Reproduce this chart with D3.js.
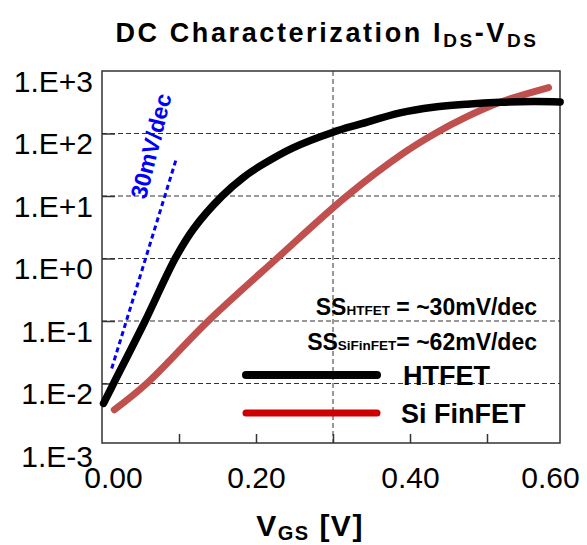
<!DOCTYPE html>
<html lang="en">
<head>
<meta charset="UTF-8">
<title>DC Characterization</title>
<script src="https://cdn.jsdelivr.net/npm/d3@7"></script>
<style>
    body { margin: 0; background: #fff; }
    text { font-family: "Liberation Sans", Arial, sans-serif; }
</style>
</head>
<body>
<script type="text/javascript">
    // values
    var vgsHtfet = [0.002, 0.015, 0.056, 0.095, 0.119, 0.156, 0.184, 0.205, 0.248, 0.300, 0.335, 0.387, 0.430, 0.474, 0.517, 0.560, 0.595];
    var idsHtfet = [0.0048, 0.01, 0.1, 1, 3.0, 10, 20, 30, 59, 105, 141, 214, 263, 295, 316, 324, 320];
    var vgsFinfet = [0.016, 0.058, 0.138, 0.227, 0.318, 0.391, 0.4325, 0.474, 0.517, 0.580];
    var idsFinfet = [0.0038, 0.01, 0.1, 1, 10, 48, 100, 186, 316, 543];
    var slopeV = [0.0126, 0.097];
    var slopeI = [0.0174, 41.3];
    var yDecades = [1e-3, 1e-2, 1e-1, 1, 10, 100, 1000];
    var yGrid = [1e-2, 1e-1, 1, 10, 100];
    var xLabels = [0, 0.2, 0.4, 0.6];
    var xMinor = [0.1, 0.2, 0.3, 0.4, 0.5];

    var width = 587;
    var height = 545;
    var frame = {left: 102, top: 71, right: 560, bottom: 443};

    var svg = d3.select('body').append('svg')
            .attr('width', width)
            .attr('height', height);

    var x = d3.scaleLinear().domain([0, 0.6]).range([102, 564]);
    var y = d3.scaleLog().domain([1e-3, 1e3]).range([446, 71]);

    // dashed grid
    svg.selectAll('.hgrid')
            .data(yGrid)
            .enter()
            .append('line')
            .attr('x1', frame.left)
            .attr('x2', frame.right)
            .attr('y1', function (d) { return y(d); })
            .attr('y2', function (d) { return y(d); })
            .attr('stroke', '#333')
            .attr('stroke-width', 1)
            .attr('stroke-dasharray', '5,3');

    svg.append('line')
            .attr('x1', x(0.3))
            .attr('x2', x(0.3))
            .attr('y1', frame.top)
            .attr('y2', frame.bottom)
            .attr('stroke', '#333')
            .attr('stroke-width', 1)
            .attr('stroke-dasharray', '5,3');

    // inner ticks
    var yTickAxis = svg.append('g')
            .attr('transform', 'translate(' + frame.left + ',0)')
            .call(d3.axisRight(y).tickValues(yGrid).tickSize(13).tickFormat(''));
    var xTickAxis = svg.append('g')
            .attr('transform', 'translate(0,' + frame.bottom + ')')
            .call(d3.axisTop(x).tickValues(xMinor).tickSize(9).tickFormat(''));
    [yTickAxis, xTickAxis].forEach(function (g) {
        g.select('.domain').remove();
        g.selectAll('line').attr('stroke', '#333').attr('stroke-width', 1.5);
    });

    // tick labels
    function fmtDecade(d) {
        var e = Math.round(Math.log10(d));
        return '1.E' + (e < 0 ? '-' : '+') + Math.abs(e);
    }
    var yLabelAxis = svg.append('g')
            .attr('transform', 'translate(' + frame.left + ',0)')
            .call(d3.axisLeft(y).tickValues(yDecades).tickSize(0).tickPadding(9).tickFormat(fmtDecade));
    var xLabelAxis = svg.append('g')
            .attr('transform', 'translate(0,' + frame.bottom + ')')
            .call(d3.axisBottom(x).tickValues(xLabels).tickSize(0).tickPadding(24).tickFormat(d3.format('.2f')));
    [yLabelAxis, xLabelAxis].forEach(function (g) {
        g.select('.domain').remove();
        g.attr('font-family', null).attr('font-size', null);
        g.selectAll('text').attr('font-size', '30px').attr('fill', '#000');
    });
    yLabelAxis.selectAll('text').attr('dy', '0.68em');
    xLabelAxis.selectAll('text').attr('dx', function (d) {
        return d === 0 ? 11 : (d === 0.6 ? -14 : 0);
    });

    // frame
    svg.append('rect')
            .attr('x', frame.left)
            .attr('y', frame.top)
            .attr('width', frame.right - frame.left)
            .attr('height', frame.bottom - frame.top)
            .attr('fill', 'none')
            .attr('stroke', '#333')
            .attr('stroke-width', 1.5);

    // curves
    var line = d3.line()
            .x(function (d) { return x(d[0]); })
            .y(function (d) { return y(d[1]); })
            .curve(d3.curveCatmullRom.alpha(0.5));

    svg.append('path')
            .datum(d3.zip(slopeV, slopeI))
            .attr('d', line)
            .attr('fill', 'none')
            .attr('stroke', '#0000ff')
            .attr('stroke-width', 3)
            .attr('stroke-dasharray', '5,3.5');

    svg.append('path')
            .datum(d3.zip(vgsFinfet, idsFinfet))
            .attr('d', line)
            .attr('fill', 'none')
            .attr('stroke', '#c0504d')
            .attr('stroke-width', 7)
            .attr('stroke-linecap', 'round');

    svg.append('path')
            .datum(d3.zip(vgsHtfet, idsHtfet))
            .attr('d', line)
            .attr('fill', 'none')
            .attr('stroke', '#000')
            .attr('stroke-width', 7.5)
            .attr('stroke-linecap', 'round');

    // slope annotation
    svg.append('text')
            .attr('transform', 'translate(151,146) rotate(-76)')
            .attr('text-anchor', 'middle')
            .attr('dy', '0.35em')
            .attr('font-size', '23px')
            .attr('font-weight', 'bold')
            .attr('fill', '#0000ff')
            .text('30mV/dec');

    // SS notes
    function ssNote(yPos, sub, rest) {
        var t = svg.append('text')
                .attr('x', 537)
                .attr('y', yPos)
                .attr('text-anchor', 'end')
                .attr('font-size', '23px')
                .attr('font-weight', 'bold');
        t.append('tspan').text('SS');
        t.append('tspan').attr('font-size', '13.5px').text(sub);
        t.append('tspan').text(rest);
    }
    ssNote(315, 'HTFET', ' = ~30mV/dec');
    ssNote(350, 'SiFinFET', '= ~62mV/dec');

    // legend
    var legend = [
        {name: 'HTFET', color: '#000', w: 8, y: 375, tx: 403},
        {name: 'Si FinFET', color: '#cc0000', w: 7, y: 413, tx: 401}
    ];
    legend.forEach(function (l) {
        svg.append('line')
                .attr('x1', 246).attr('x2', 377)
                .attr('y1', l.y).attr('y2', l.y)
                .attr('stroke', l.color)
                .attr('stroke-width', l.w)
                .attr('stroke-linecap', 'round');
        svg.append('text')
                .attr('x', l.tx)
                .attr('y', l.y + 10)
                .attr('font-size', '27px')
                .attr('font-weight', 'bold')
                .text(l.name);
    });

    // title
    var title = svg.append('text')
            .attr('x', 327)
            .attr('y', 42)
            .attr('text-anchor', 'middle')
            .attr('font-size', '27px')
            .attr('font-weight', 'bold')
            .attr('letter-spacing', '2.6px');
    title.append('tspan').text('DC Characterization I');
    title.append('tspan').attr('font-size', '19px').attr('dy', 5).text('DS');
    title.append('tspan').attr('dy', -5).text('-V');
    title.append('tspan').attr('font-size', '19px').attr('dy', 5).text('DS');

    // x axis title
    var xt = svg.append('text')
            .attr('x', 310)
            .attr('y', 536)
            .attr('text-anchor', 'middle')
            .attr('font-size', '30px')
            .attr('font-weight', 'bold')
            .attr('letter-spacing', '1.5px');
    xt.append('tspan').text('V');
    xt.append('tspan').attr('font-size', '20px').attr('dy', 4).text('GS');
    xt.append('tspan').attr('dy', -4).text(' [V]');
</script>
</body>
</html>
